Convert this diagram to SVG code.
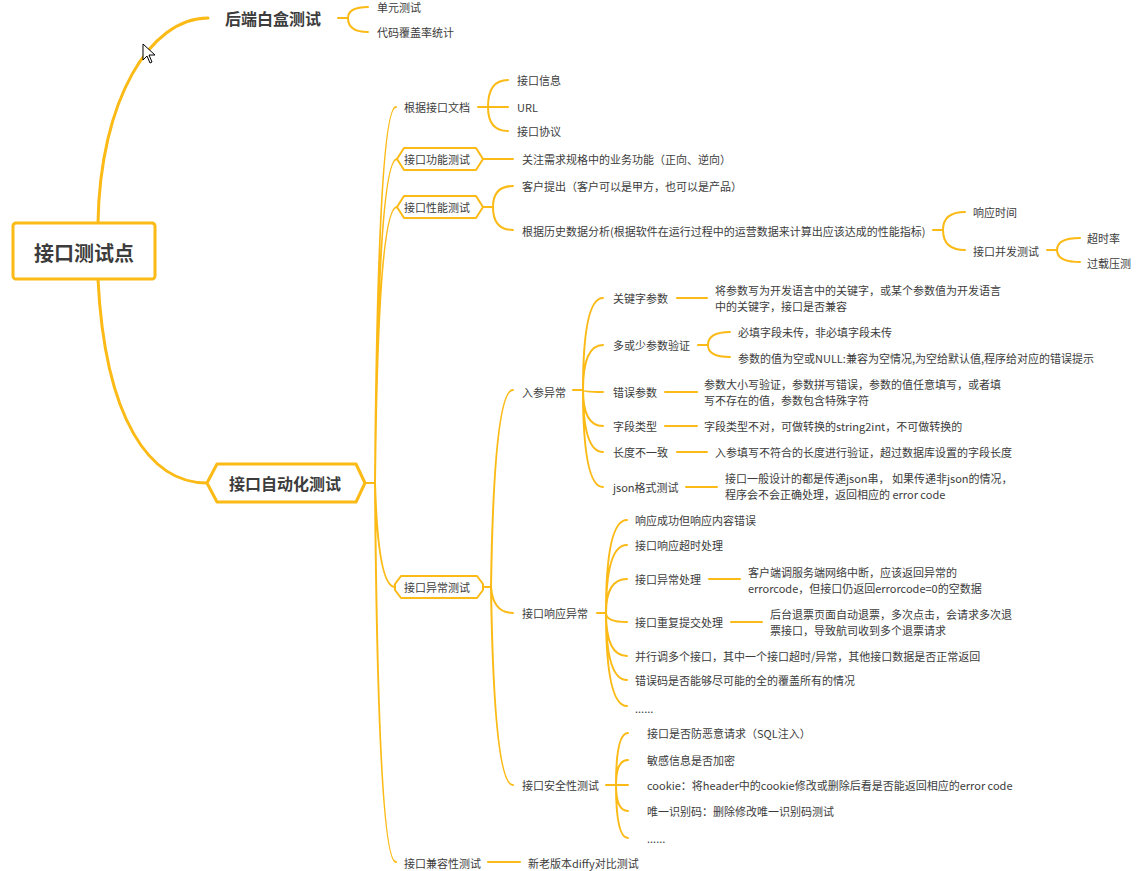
<svg xmlns="http://www.w3.org/2000/svg" width="1136" height="871" viewBox="0 0 1136 871">
<style>
text{font-family:"Microsoft YaHei","Noto Sans CJK SC","Noto Sans",sans-serif;fill:#3c3c3c;dominant-baseline:central;font-size:11px}
.b16{font-size:16px;font-weight:bold}
.b20{font-size:20px;font-weight:bold}
.c{fill:none;stroke:#FBBA15;stroke-width:2;stroke-linecap:round}
.c3{fill:none;stroke:#FBBA15;stroke-width:3;stroke-linecap:round}
.box{fill:#fff;stroke:#FBBA15;stroke-width:2;stroke-linejoin:round}
</style>
<rect width="1136" height="871" fill="#fff"/>
<g id="connectors">
<path class="c3" d="M98,223 C100,100 150,18 208,18"/>
<path class="c3" d="M98,279 C105,420 150,483 207,483"/>
<path class="c" d="M338,18 H348 M348,18 Q348,7 368,7 M348,18 Q348,32 368,32"/>
<path class="c" d="M365,483 H375 M375,483 Q378,107 396,107 M375,483 Q378,159 397,159 M375,483 Q378,207 397,207 M375,483 Q378,587 395,587 M375,483 Q378,862 396,862"/>
<path class="c" d="M478,107 H488 M488,107 Q488,80 508,80 M488,107 H508 M488,107 Q488,131 508,131"/>
<path class="c" d="M483,159 H513"/>
<path class="c" d="M483,207 H493 M493,207 Q493,186 513,186 M493,207 Q493,230 513,230"/>
<path class="c" d="M933,230 H943 M943,230 Q943,212 965,212 M943,230 Q943,250 965,250"/>
<path class="c" d="M1047,250 H1057 M1057,250 Q1057,238 1080,238 M1057,250 Q1057,262 1080,262"/>
<path class="c" d="M483,587 H491 M491,587 Q494,390 513,390 M491,587 Q493,613 513,613 M491,587 Q494,785 513,785"/>
<path class="c" d="M573,390 H583 M583,390 Q583,298 603,298 M583,390 Q583,345 603,345 M583,390 Q583,392 603,392 M583,390 Q583,426 603,426 M583,390 Q583,452 603,452 M583,390 Q583,487 603,487"/>
<path class="c" d="M677,298 H707 M698,345 H708 M708,345 Q708,332 730,332 M708,345 Q708,357 730,357 M665,392 H697 M665,426 H697 M677,452 H707 M686,487 H717"/>
<path class="c" d="M597,613 H606 M606,613 Q606,520 627,520 M606,613 Q606,545 627,545 M606,613 Q606,579 627,579 M606,613 Q606,622 627,622 M606,613 Q606,656 627,656 M606,613 Q606,680 627,680 M606,613 Q606,706 627,706"/>
<path class="c" d="M709,579 H740 M731,622 H762"/>
<path class="c" d="M606,785 H616 M616,785 Q616,733 628,733 M616,785 Q616,760 628,760 M616,785 H628 M616,785 Q616,811 628,811 M616,785 Q616,838 628,838"/>
<path class="c" d="M488,862 H520"/>
</g>
<g id="root"><rect x="13" y="223" width="142" height="56" rx="3" fill="#fff" stroke="#FBBA15" stroke-width="3"/><text class="b20" x="84" y="252" text-anchor="middle">接口测试点</text></g>
<g id="n-backend"><text class="b16" x="225" y="18">后端白盒测试</text></g>
<g id="n-unit"><text x="377" y="7">单元测试</text></g>
<g id="n-coverage"><text x="377" y="32">代码覆盖率统计</text></g>
<g id="n-auto"><polygon class="box" style="stroke-width:3" points="207,483 217,464 356,464 365,483 356,502 217,502"/><text class="b16" x="229" y="483">接口自动化测试</text></g>
<g id="n-doc"><text x="404" y="107">根据接口文档</text></g>
<g id="n-info"><text x="517" y="80">接口信息</text></g>
<g id="n-url"><text x="517" y="107">URL</text></g>
<g id="n-proto"><text x="517" y="131">接口协议</text></g>
<g id="n-func"><polygon class="box" points="397,159 404,148 476,148 483,159 476,170 404,170"/><text x="404" y="159">接口功能测试</text></g>
<g id="n-func1"><text x="522" y="159">关注需求规格中的业务功能（正向、逆向）</text></g>
<g id="n-perf"><polygon class="box" points="397,207 404,196 476,196 483,207 476,218 404,218"/><text x="404" y="207">接口性能测试</text></g>
<g id="n-perf1"><text x="522" y="186">客户提出（客户可以是甲方，也可以是产品）</text></g>
<g id="n-perf2"><text x="522" y="231">根据历史数据分析(根据软件在运行过程中的运营数据来计算出应该达成的性能指标)</text></g>
<g id="n-resp-time"><text x="973" y="212">响应时间</text></g>
<g id="n-concur"><text x="973" y="251">接口并发测试</text></g>
<g id="n-timeout-rate"><text x="1087" y="238">超时率</text></g>
<g id="n-overload"><text x="1087" y="263">过载压测</text></g>
<g id="n-exc"><polygon class="box" points="395,584 401,576 477,576 483,584 483,590 477,598 401,598 395,590"/><text x="404" y="587">接口异常测试</text></g>
<g id="n-input"><text x="522" y="392">入参异常</text></g>
<g id="n-kw"><text x="613" y="298">关键字参数</text><text x="715" y="290">将参数写为开发语言中的关键字，或某个参数值为开发语言</text><text x="715" y="306">中的关键字，接口是否兼容</text></g>
<g id="n-more-less"><text x="613" y="345">多或少参数验证</text><text x="738" y="332">必填字段未传，非必填字段未传</text><text x="738" y="358">参数的值为空或NULL:兼容为空情况,为空给默认值,程序给对应的错误提示</text></g>
<g id="n-wrong"><text x="613" y="392">错误参数</text><text x="704" y="384">参数大小写验证，参数拼写错误，参数的值任意填写，或者填</text><text x="704" y="400">写不存在的值，参数包含特殊字符</text></g>
<g id="n-type"><text x="613" y="426">字段类型</text><text x="704" y="426">字段类型不对，可做转换的string2int，不可做转换的</text></g>
<g id="n-len"><text x="613" y="452">长度不一致</text><text x="715" y="452">入参填写不符合的长度进行验证，超过数据库设置的字段长度</text></g>
<g id="n-json"><text x="613" y="487">json格式测试</text><text x="725" y="478">接口一般设计的都是传递json串， 如果传递非json的情况，</text><text x="725" y="494">程序会不会正确处理，返回相应的 error code</text></g>
<g id="n-resp"><text x="522" y="613">接口响应异常</text></g>
<g id="n-r1"><text x="635" y="520">响应成功但响应内容错误</text></g>
<g id="n-r2"><text x="635" y="545">接口响应超时处理</text></g>
<g id="n-r3"><text x="635" y="579">接口异常处理</text><text x="748" y="572">客户端调服务端网络中断，应该返回异常的</text><text x="748" y="588">errorcode，但接口仍返回errorcode=0的空数据</text></g>
<g id="n-r4"><text x="635" y="622">接口重复提交处理</text><text x="770" y="614">后台退票页面自动退票，多次点击，会请求多次退</text><text x="770" y="630">票接口，导致航司收到多个退票请求</text></g>
<g id="n-r5"><text x="635" y="656">并行调多个接口，其中一个接口超时/异常，其他接口数据是否正常返回</text></g>
<g id="n-r6"><text x="635" y="680">错误码是否能够尽可能的全的覆盖所有的情况</text></g>
<g id="n-r7"><text x="635" y="708">......</text></g>
<g id="n-sec"><text x="522" y="785">接口安全性测试</text></g>
<g id="n-s1"><text x="647" y="733">接口是否防恶意请求（SQL注入）</text></g>
<g id="n-s2"><text x="647" y="760">敏感信息是否加密</text></g>
<g id="n-s3"><text x="647" y="785">cookie：将header中的cookie修改或删除后看是否能返回相应的error code</text></g>
<g id="n-s4"><text x="647" y="811">唯一识别码：删除修改唯一识别码测试</text></g>
<g id="n-s5"><text x="647" y="838">......</text></g>
<g id="n-compat"><text x="404" y="863">接口兼容性测试</text></g>
<g id="n-compat1"><text x="528" y="863">新老版本diffy对比测试</text></g>
<polygon points="143,44 143,60 147,56 150,63 152,62 149,55 155,55" fill="#fff" stroke="#000" stroke-width="1" stroke-linejoin="round"/>
</svg>
